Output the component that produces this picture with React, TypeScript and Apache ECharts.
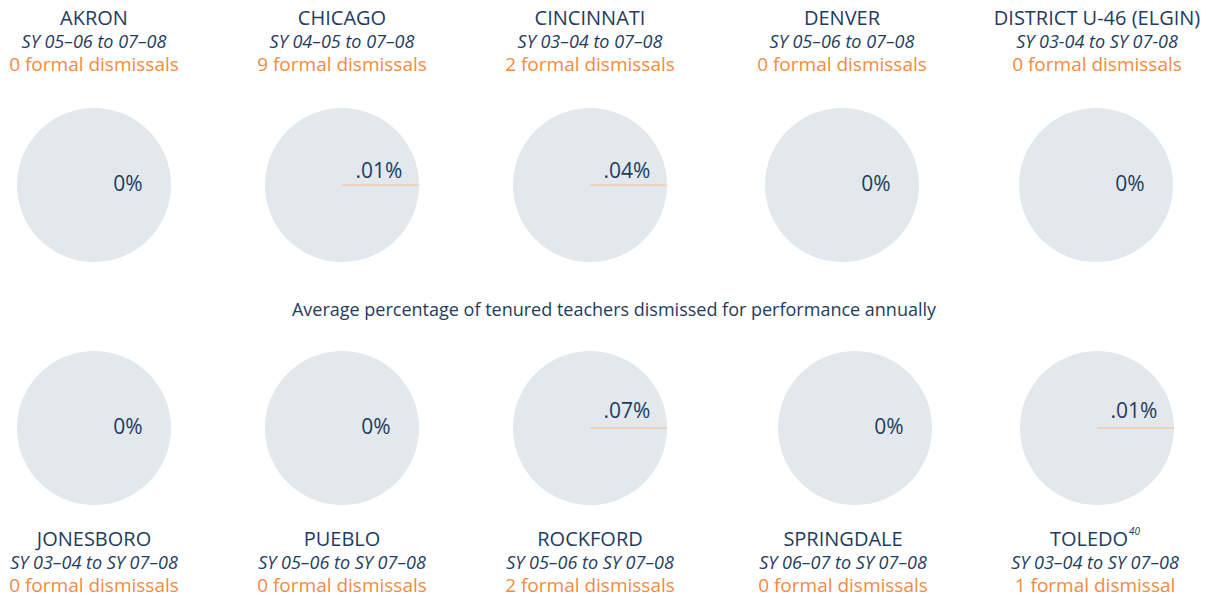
import React, { useEffect, useRef } from "react";
import * as echarts from "echarts";

const districts = ["AKRON", "CHICAGO", "CINCINNATI", "DENVER", "DISTRICT U-46 (ELGIN)", "JONESBORO", "PUEBLO", "ROCKFORD", "SPRINGDALE", "TOLEDO"];
const footnotes = ["", "", "", "", "", "", "", "", "", "40"];
const periods = [
  "SY 05–06 to 07–08",
  "SY 04–05 to 07–08",
  "SY 03–04 to 07–08",
  "SY 05–06 to 07–08",
  "SY 03-04 to SY 07-08",
  "SY 03–04 to SY 07–08",
  "SY 05–06 to SY 07–08",
  "SY 05–06 to SY 07–08",
  "SY 06–07 to SY 07–08",
  "SY 03–04 to SY 07–08",
];
const dismissals = [0, 9, 2, 0, 0, 0, 0, 2, 0, 1];
const percents = [0, 0.01, 0.04, 0, 0, 0, 0, 0.07, 0, 0.01];
const centerTitle = "Average percentage of tenured teachers dismissed for performance annually";

// layout (styling)
const pieCenters: [number, number][] = [
  [94, 185], [342, 185], [590, 185], [842, 185], [1096, 185],
  [94, 428], [342, 428], [590, 428], [855, 428], [1097, 428],
];
const labelDy = [-15, -15, -15, -15, -15, -18, -18, -18, -18, -18];
const titleX = [94, 342, 590, 842, 1097, 94, 342, 590, 843, 1095];
const titleMid = [17, 17, 17, 17, 17, 538, 538, 538, 538, 538];

const NAVY = "#1e3c5e";
const ORANGE = "#f58a3c";
const GRAY = "#e3e8ed";
const FONT = "Open Sans";

function fmtPct(v: number) {
  if (v === 0) return "0%";
  return String(v).replace(/^0/, "") + "%";
}

export default function App() {
  const ref = useRef<HTMLDivElement>(null);
  useEffect(() => {
    const chart = echarts.init(ref.current!, null, { renderer: "svg" });
    const series: any[] = districts.map((d, i) => {
      const p = percents[i];
      return {
        type: "pie",
        radius: 77,
        center: pieCenters[i],
        startAngle: 0,
        clockwise: false,
        silent: true,
        label: { show: false },
        labelLine: { show: false },
        emphasis: { disabled: true },
        data: [
          { name: "rest", value: 100 - p, itemStyle: { color: GRAY, borderWidth: 0 }, label: { show: false } },
          {
            name: d,
            value: p,
            itemStyle: {
              color: "#f6c39b",
              borderColor: p > 0 ? "#f6c39b" : "transparent",
              borderWidth: p > 0 ? 0.7 : 0,
            },
            label: {
              show: true,
              position: "center",
              formatter: () => fmtPct(p),
              color: NAVY,
              fontFamily: FONT,
              fontSize: 21,
              offset: p > 0 ? [37, labelDy[i]] : [34, -2],
            },
          },
        ],
      };
    });

    const graphics: any[] = [];
    districts.forEach((d, i) => {
      const x = titleX[i];
      const y = titleMid[i];
      graphics.push({
        type: "text",
        x,
        y,
        style: {
          text: footnotes[i] ? `{n|${d}}{s|${footnotes[i]}}` : `{n|${d}}`,
          align: "center",
          verticalAlign: "middle",
          rich: {
            n: { fontFamily: FONT, fontSize: 20, fill: NAVY, color: NAVY, lineHeight: 24 },
            s: { fontFamily: FONT, fontSize: 10, fontStyle: "italic", fill: NAVY, color: NAVY, verticalAlign: "top", lineHeight: 24, padding: [0, 0, 10, 1] },
          },
        },
      });
      graphics.push({
        type: "text",
        x,
        y: y + 23.5,
        style: {
          text: periods[i],
          align: "center",
          verticalAlign: "middle",
          fontFamily: FONT,
          fontStyle: "italic",
          fontSize: 18,
          fill: NAVY,
        },
      });
      const c = dismissals[i];
      graphics.push({
        type: "text",
        x,
        y: y + 47,
        style: {
          text: `${c} formal dismissal${c === 1 ? "" : "s"}`,
          align: "center",
          verticalAlign: "middle",
          fontFamily: FONT,
          fontSize: 19,
          fill: ORANGE,
        },
      });
    });
    graphics.push({
      type: "text",
      x: 614,
      y: 309,
      style: {
        text: centerTitle,
        align: "center",
        verticalAlign: "middle",
        fontFamily: FONT,
        fontSize: 18,
        fill: NAVY,
      },
    });

    chart.setOption({
      animation: false,
      backgroundColor: "#ffffff",
      series,
      graphic: graphics,
    });
    return () => chart.dispose();
  }, []);
  return <div ref={ref} style={{ position: "absolute", left: 0, top: 0, width: 1212, height: 598 }} />;
}
